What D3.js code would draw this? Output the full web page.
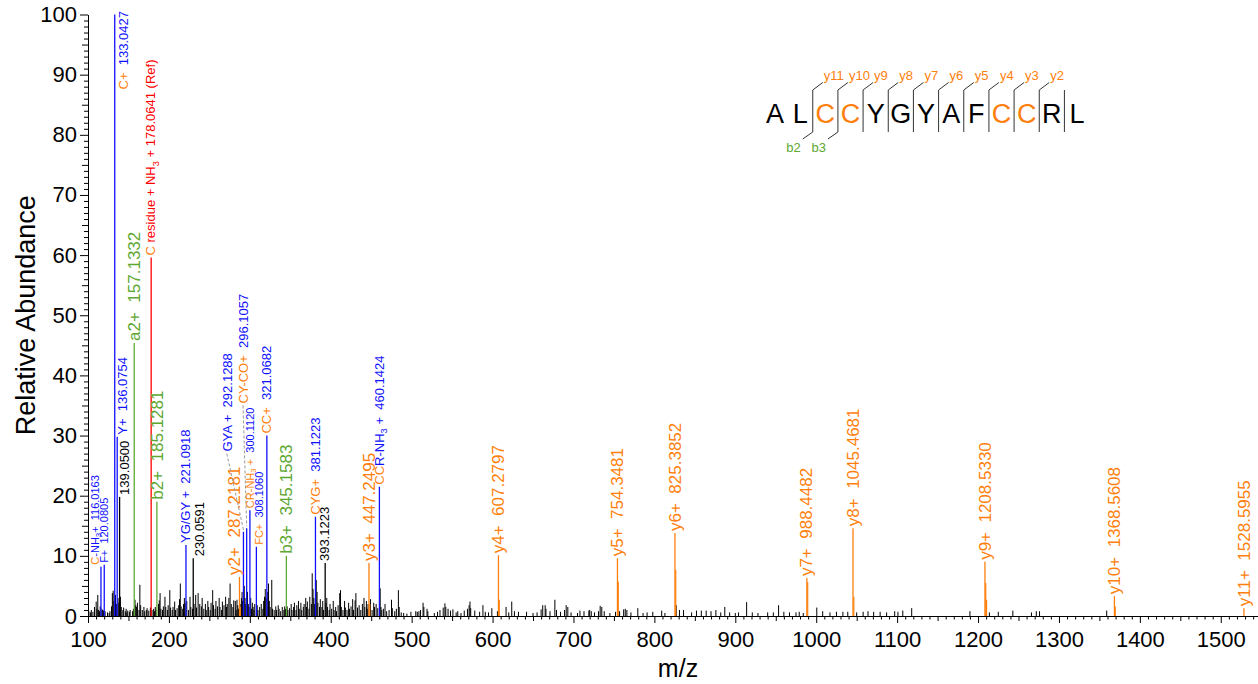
<!DOCTYPE html>
<html>
<head>
<meta charset="utf-8">
<script src="https://cdn.jsdelivr.net/npm/d3@7"></script>
<style>
  body { margin: 0; background: #fff; }
  svg text { font-family: "Liberation Sans", Arial, Helvetica, sans-serif; }
</style>
</head>
<body>
<svg id="chart" width="1258" height="684"></svg>
<script>
// ---------- annotated fragment ions ----------
const ionMz = [116.0163, 120.0805, 133.0427, 136.0754, 139.0500, 157.1332, 178.0641, 185.1281,
  221.0918, 230.0591, 287.2181, 292.1288, 296.1057, 300.1120, 308.1060, 321.0682, 345.1583,
  381.1223, 393.1223, 447.2495, 460.1424, 607.2797, 754.3481, 825.3852, 988.4482, 1045.4681,
  1208.5330, 1368.5608, 1528.5955];
const ionIntensity = [8.2, 8.5, 100, 29.8, 19.8, 45.4, 59.6, 19.0,
  11.8, 9.6, 6.5, 14.0, 14.6, 17.6, 11.5, 30.0, 10.0,
  16.5, 8.8, 8.8, 21.5, 10.1, 9.6, 13.8, 6.3, 14.6,
  9.0, 3.3, 1.3];
// frag = immonium / internal (blue), y = y ions, b = b/a ions, ref = lock mass, plain = unassigned
const ionKind = ["frag", "frag", "frag", "frag", "plain", "b", "ref", "b",
  "frag", "plain", "y", "frag", "frag", "frag", "frag", "frag", "b",
  "frag", "plain", "y", "frag", "y", "y", "y", "y", "y",
  "y", "y", "y"];
// {...} = cysteine-containing part, _x = subscript
const ionLabel = ["{C}-NH_3+  116.0163", "F+  120.0805", "{C+}  133.0427", "Y+  136.0754", "139.0500",
  "a2+  157.1332", "{C} residue + NH_3 + 178.0641 (Ref)", "b2+  185.1281",
  "YG/GY +  221.0918", "230.0591", "y2+  287.2181", "GYA +  292.1288", "{CY-CO+}  296.1057",
  "{CR-NH_3 +}  300.1120", "{FC+}  308.1060", "{CC+}  321.0682", "b3+  345.1583",
  "{CYG+}  381.1223", "393.1223", "y3+  447.2495", "{CC}R-NH_3 +  460.1424", "y4+  607.2797",
  "y5+  754.3481", "y6+  825.3852", "y7+  988.4482", "y8+  1045.4681",
  "y9+  1208.5330", "y10+  1368.5608", "y11+  1528.5955"];

// isotope lines of the y ions (unlabelled)
const isotopeMz = [288.22, 448.25, 608.28, 755.35, 826.39, 989.45, 1046.47, 1209.53, 1210.53, 1369.56];
const isotopeIntensity = [1.5, 2.0, 2.7, 5.7, 7.7, 5.6, 3.2, 5.5, 2.7, 1.6];

// ---------- unassigned peaks [m/z, relative abundance] ----------
const noise100 = [[101.1,0.8],[103.0,0.6],[104.1,1.0],[106.1,0.7],[108.0,1.5],[110.1,2.4],[111.1,1.2],
  [112.1,3.5],[113.1,1.0],[114.1,0.8],[115.1,1.6],[117.1,1.2],[118.1,1.0],[119.1,0.9],[121.1,0.8],
  [124.1,0.6],[126.1,0.5],[127.1,0.8],[129.1,1.6],[130.1,3.8],[131.1,4.2],[132.1,2.5],[134.0,3.5],
  [135.1,2.0],[137.1,3.0],[138.1,2.2],[140.1,3.2],[141.1,1.5],[143.1,1.0],[144.1,1.4],[146.1,0.8],
  [147.1,1.2],[148.1,0.6],[149.1,0.9]];
const noise150 = [[151.1,0.7],[152.1,1.0],[155.1,0.8],[156.1,1.2],[158.1,2.7],[159.1,1.8],[160.1,1.5],
  [161.1,2.2],[163.1,1.0],[164.1,5.2],[165.1,1.8],[167.1,1.0],[169.1,1.5],[170.1,0.8],[172.1,1.0],
  [173.1,1.3],[175.1,0.9],[177.1,1.4],[179.1,1.0],[181.1,1.2],[182.1,0.8],[183.1,1.5],[184.1,1.1],
  [187.1,2.0],[188.1,2.6],[189.1,3.8],[190.1,1.2],[192.1,1.0],[193.1,1.6],[195.1,3.2],[196.1,1.5],
  [198.1,1.0],[199.1,1.8]];
const noise200 = [[201.1,4.3],[202.1,1.4],[204.1,1.0],[205.1,1.5],[207.1,2.4],[208.1,1.0],[210.1,1.3],
  [212.1,1.8],[213.1,2.8],[214.1,5.4],[215.1,1.6],[217.1,1.2],[218.1,2.0],[219.1,3.0],[220.1,2.2],
  [222.1,2.5],[224.1,1.0],[226.1,3.2],[227.1,1.5],[229.1,1.2],[231.1,2.0],[233.1,3.5],[234.1,1.4],
  [236.1,3.8],[238.1,2.0],[240.1,1.6],[241.1,3.0],[243.1,1.2],[245.1,2.0],[246.1,1.0],[248.1,2.5],
  [249.1,1.5]];
const noise250 = [[251.1,1.0],[252.1,2.2],[254.1,4.3],[255.1,1.8],[257.1,1.2],[258.1,2.5],[260.1,1.6],
  [262.1,3.0],[263.1,1.5],[265.1,1.0],[266.1,2.4],[268.1,1.8],[270.1,3.2],[271.1,1.5],[272.1,2.0],
  [274.1,3.0],[275.6,5.4],[277.1,2.0],[279.1,1.5],[280.1,2.6],[282.1,2.5],[283.1,1.0],[284.1,2.7],
  [285.1,1.8],[286.1,1.2],[288.9,2.0],[289.6,3.0],[290.4,4.0],[291.1,2.5],[293.1,5.0],[294.1,3.0],
  [295.1,2.0],[297.1,4.0],[298.1,2.0],[299.1,1.5]];
const noise300 = [[301.1,3.0],[302.1,1.2],[303.1,2.2],[304.1,1.5],[305.1,1.0],[306.1,2.0],[309.1,1.8],
  [310.1,1.0],[312.1,1.5],[314.1,2.0],[316.1,1.2],[317.1,2.5],[318.1,3.2],[319.1,4.5],[320.1,3.0],
  [322.1,4.0],[323.1,5.4],[324.1,2.5],[325.1,1.5],[327.1,6.0],[328.1,1.2],[330.1,1.0],[332.1,1.6],
  [333.1,1.0],[335.1,1.8],[336.1,1.2],[338.1,0.8],[340.1,1.5],[342.1,1.0],[343.1,1.6],[344.1,1.2],
  [346.1,1.6],[347.1,1.0],[349.1,1.3]];
const noise350 = [[351.1,2.0],[352.1,1.0],[354.1,1.5],[355.1,2.2],[357.1,1.0],[358.1,1.8],[360.1,2.5],
  [361.1,1.2],[363.1,2.2],[364.1,1.0],[366.1,1.5],[367.1,2.0],[369.1,3.0],[370.1,1.5],[371.1,2.4],
  [373.1,1.2],[374.1,3.2],[376.1,2.0],[377.1,7.1],[378.1,4.5],[379.1,3.0],[380.1,2.0],[382.1,6.0],
  [383.1,4.0],[384.1,2.2],[386.1,1.5],[387.1,2.8],[389.1,1.5],[390.1,2.5],[391.1,1.0],[394.1,2.2],
  [395.1,3.0],[396.1,1.5],[398.1,1.0],[399.1,2.0]];
const noise400 = [[401.1,1.2],[403.1,2.5],[404.1,1.0],[406.1,1.5],[407.1,0.8],[409.1,1.8],[411.1,3.8],
  [412.1,4.3],[413.1,1.5],[415.1,1.0],[417.1,2.5],[418.1,1.4],[420.1,1.0],[422.1,2.2],[423.1,1.2],
  [425.1,1.6],[427.1,2.8],[428.1,1.0],[430.1,2.6],[431.1,3.8],[433.1,1.4],[435.1,1.8],[437.1,1.0],
  [439.1,2.0],[441.1,3.0],[442.1,1.5],[444.1,2.5],[445.1,1.2],[446.1,2.0],[449.1,2.8],[451.1,1.0],
  [453.1,2.2],[454.1,1.5],[456.1,2.0],[458.1,1.3],[461.1,4.6],[462.1,1.5],[463.1,1.0],[465.1,1.2],
  [467.1,2.0],[469.1,0.8],[472.1,1.0],[475.1,2.7],[476.1,1.3],[479.1,0.8],[481.1,1.2],[483.6,4.3],
  [484.6,1.5],[487.1,0.6],[490.1,0.5],[494.1,0.4],[499.1,0.7]];
const noise500 = [[505.1,0.8],[507.0,0.7],[509.0,0.8],[511.0,1.0],[514.1,2.2],[515.1,1.5],[519.0,1.2],
  [520.0,0.8],[528.0,0.5],[532.0,0.7],[535.0,1.0],[539.0,1.4],[541.1,2.1],[542.2,1.5],[545.0,1.2],
  [548.0,0.9],[551.0,1.1],[555.0,0.6],[557.0,0.8],[561.0,0.5],[565.0,0.9],[569.0,1.2],[571.0,1.8],
  [572.1,2.4],[573.0,1.3],[578.0,0.9],[584.0,0.7],[588.1,1.8],[591.0,0.7],[595.0,0.6],[599.1,1.3],
  [606.0,0.8],[616.7,1.5],[620.0,0.6],[623.7,2.4],[627.0,0.8],[632.0,0.7],[642.0,0.7],[650.0,0.5],
  [655.0,0.6],[660.0,1.1],[662.0,1.8],[665.0,1.8],[666.0,1.2],[671.0,0.8],[677.0,2.7],[679.0,1.0],
  [684.0,0.7],[689.0,1.0],[691.0,1.8],[693.0,1.5],[697.0,0.6]];
const noise700 = [[705,0.5],[708,0.9],[713,0.8],[719,0.9],[720,1.0],[722,0.8],[726,0.6],[731,0.8],
  [733,1.7],[735,1.5],[738,0.8],[745,0.5],[752,0.7],[757,0.8],[762,1.1],[764,1.2],[766,1.0],[771,0.6],
  [779.5,1.3],[786,0.5],[791,0.6],[798,0.7],[809,0.9],[813,0.5],[827,1.8],[831,1.0],[836,1.0],
  [846,0.6],[852,0.9],[858,0.9],[864,0.9],[870,0.8],[876,1.0],[882,0.6],[887,1.5],[893,0.6],[900,0.5],
  [904,0.6],[914,2.3],[921,0.6],[928,0.5],[940,0.6],[947,0.6],[953.5,1.8],[960,0.7],[967,0.6],
  [975,0.6],[979,0.7],[984,0.5]];
const noise1000 = [[1000.7,1.4],[1008,0.8],[1017,0.6],[1025,0.7],[1033,0.7],[1039,0.7],[1050,0.6],
  [1058,0.7],[1064,0.8],[1071,0.7],[1079,0.7],[1087,0.6],[1097,0.8],[1101,0.7],[1107,0.9],[1118,1.3],
  [1190,0.8],[1214,0.6],[1225,0.7],[1243,0.9],[1266,0.6],[1272,0.8],[1276,0.8],[1359,0.9]];

// ---------- peptide sequence and observed cleavages ----------
const sequence = ["A","L","C","C","Y","G","Y","A","F","C","C","R","L"];
const yIonNumbers = [11, 10, 9, 8, 7, 6, 5, 4, 3, 2];   // cleavage after residue 2 .. 11
const bIonNumbers = [2, 3];

// ---------- axis ticks ----------
const xTickValues = [100,200,300,400,500,600,700,800,900,1000,1100,1200,1300,1400,1500];
const yTickValues = [0,10,20,30,40,50,60,70,80,90,100];

// ---------- drawing ----------
const COLORS = { frag: "#1010ff", y: "#ff7f0e", b: "#5ea832", ref: "#ff0000", plain: "#000000", residue: "#ff7f0e" };
const svg = d3.select("#chart");
const x = d3.scaleLinear().domain([100, 1546]).range([88, 1258]);
const y = d3.scaleLinear().domain([0, 100]).range([616, 14.5]);

// axes
function styleAxis(g) {
  g.attr("font-family", null).attr("font-size", null);
  g.selectAll("line, path").attr("stroke", "#000");
  g.selectAll("text").attr("font-size", 22).attr("fill", "#000");
}
const xMinor = d3.range(110, 1546, 10).filter(v => v % 50 !== 0);
const xMid = d3.range(150, 1546, 100);
svg.append("g").attr("transform", "translate(0,616)")
  .call(d3.axisBottom(x).tickValues(xMinor).tickSize(3.5).tickFormat("").tickSizeOuter(0))
  .call(g => g.select(".domain").remove()).call(styleAxis);
svg.append("g").attr("transform", "translate(0,616)")
  .call(d3.axisBottom(x).tickValues(xMid).tickSize(5).tickFormat("").tickSizeOuter(0))
  .call(g => g.select(".domain").remove()).call(styleAxis);
svg.append("g").attr("transform", "translate(0,616)")
  .call(d3.axisBottom(x).tickValues(xTickValues).tickSize(7).tickPadding(8).tickSizeOuter(0).tickFormat(d3.format("d")))
  .call(styleAxis);

const yMinor = d3.range(1, 100, 1).filter(v => v % 5 !== 0);
const yMid = d3.range(5, 100, 10);
svg.append("g").attr("transform", "translate(88,0)")
  .call(d3.axisLeft(y).tickValues(yMinor).tickSize(4).tickFormat("").tickSizeOuter(0))
  .call(g => g.select(".domain").remove()).call(styleAxis);
svg.append("g").attr("transform", "translate(88,0)")
  .call(d3.axisLeft(y).tickValues(yMid).tickSize(6).tickFormat("").tickSizeOuter(0))
  .call(g => g.select(".domain").remove()).call(styleAxis);
svg.append("g").attr("transform", "translate(88,0)")
  .call(d3.axisLeft(y).tickValues(yTickValues).tickSize(8).tickPadding(3).tickSizeOuter(0).tickFormat(d3.format("d")))
  .call(styleAxis);

// axis titles
svg.append("text").attr("transform", `translate(35,${(y(0) + y(100)) / 2}) rotate(-90)`)
  .attr("text-anchor", "middle").attr("font-size", 27).text("Relative Abundance");
svg.append("text").attr("x", (x.range()[0] + x.range()[1]) / 2 + 5).attr("y", 677)
  .attr("text-anchor", "middle").attr("font-size", 25).text("m/z");

// unassigned peaks
const noisePeaks = [].concat(noise100, noise150, noise200, noise250, noise300, noise350, noise400,
  noise500, noise700, noise1000);
svg.append("g").selectAll("line").data(noisePeaks).join("line")
  .attr("x1", d => x(d[0])).attr("x2", d => x(d[0]))
  .attr("y1", y(0)).attr("y2", d => y(d[1]))
  .attr("stroke", "#000").attr("stroke-width", 1);

// isotope lines
svg.append("g").selectAll("line").data(isotopeMz).join("line")
  .attr("x1", d => x(d)).attr("x2", d => x(d))
  .attr("y1", y(0)).attr("y2", (d, i) => y(isotopeIntensity[i]))
  .attr("stroke", COLORS.y).attr("stroke-width", 1.2);

// annotated peaks
const ions = ionMz.map((mz, i) => ({ mz, v: ionIntensity[i], kind: ionKind[i], label: ionLabel[i] }));
svg.append("g").selectAll("line").data(ions).join("line")
  .attr("x1", d => x(d.mz)).attr("x2", d => x(d.mz))
  .attr("y1", y(0)).attr("y2", d => y(d.v))
  .attr("stroke", d => COLORS[d.kind]).attr("stroke-width", 1.3);

// label layout tweaks where neighbouring labels would collide
const labelSmall = new Set([116.0163, 120.0805, 300.1120, 308.1060]);
const labelNudge = {
  116.0163: { dx: -6 },
  133.0427: { dx: 9, at: 87.2 },
  136.0754: { dx: 6 },
  139.05: { dx: 5 },
  230.0591: { dx: 6 },
  287.2181: { dx: -5 },
  292.1288: { dx: -16, at: 27, leader: true },
  296.1057: { dx: -3, at: 35, leader: true },
  308.106: { dx: 3 }
};

function parseMarkup(str) {
  const segs = [];
  let buf = "", res = false;
  const flush = (sub) => { if (buf) segs.push({ t: buf, res, sub: !!sub }); buf = ""; };
  for (let i = 0; i < str.length; i++) {
    const c = str[i];
    if (c === "{") { flush(); res = true; }
    else if (c === "}") { flush(); res = false; }
    else if (c === "_") { flush(); buf = str[++i]; flush(true); }
    else buf += c;
  }
  flush();
  return segs;
}

const labelG = svg.append("g");
ions.forEach(d => {
  const fs = (d.kind === "y" || d.kind === "b") ? 17 : (labelSmall.has(d.mz) ? 11 : 13);
  const n = labelNudge[d.mz] || {};
  const lx = x(d.mz) + (n.dx || 0);
  const ly = y(n.at !== undefined ? n.at : d.v) - 2;
  const t = labelG.append("text")
    .attr("transform", `translate(${lx},${ly}) rotate(-90)`)
    .attr("dy", "0.33em").attr("font-size", fs)
    .style("white-space", "pre");
  let shifted = false;
  parseMarkup(d.label).forEach(s => {
    const ts = t.append("tspan").text(s.t)
      .attr("fill", s.res ? COLORS.residue : COLORS[d.kind]);
    if (s.sub) { ts.attr("font-size", fs * 0.72).attr("dy", fs * 0.25); shifted = true; }
    else if (shifted) { ts.attr("dy", -fs * 0.25); shifted = false; }
  });
  if (n.leader) {
    labelG.append("line")
      .attr("x1", lx - fs * 0.05).attr("y1", ly + 2)
      .attr("x2", x(d.mz)).attr("y2", y(d.v) - 2)
      .attr("stroke", "#999").attr("stroke-width", 1).attr("stroke-dasharray", "3,2");
  }
});

// sequence with fragmentation marks
const seqX = d3.scaleLinear().domain([0, sequence.length - 1]).range([775, 1077]);
const seqG = svg.append("g");
seqG.selectAll("text.res").data(sequence).join("text")
  .attr("class", "res")
  .attr("x", (d, i) => seqX(i)).attr("y", 123)
  .attr("text-anchor", "middle").attr("font-size", 27)
  .attr("fill", d => d === "C" ? COLORS.residue : "#000")
  .text(d => d);
const cuts = d3.range(2, sequence.length);   // cleavage after residue k (1-based)
cuts.forEach((k, j) => {
  const sx = seqX(k - 0.5);
  seqG.append("line").attr("x1", sx).attr("x2", sx).attr("y1", 90).attr("y2", 132)
    .attr("stroke", "#333").attr("stroke-width", 1);
  const yNum = yIonNumbers[j];
  if (yNum !== undefined) {
    seqG.append("line").attr("x1", sx).attr("y1", 90).attr("x2", sx + 10).attr("y2", 82.5)
      .attr("stroke", "#333").attr("stroke-width", 1);
    seqG.append("text").attr("x", sx + 11).attr("y", 80).attr("font-size", 13)
      .attr("fill", COLORS.y).text("y" + yNum);
  }
  if (bIonNumbers.includes(k)) {
    seqG.append("line").attr("x1", sx).attr("y1", 132).attr("x2", sx - 10).attr("y2", 139)
      .attr("stroke", "#333").attr("stroke-width", 1);
    seqG.append("text").attr("x", sx - 12).attr("y", 152).attr("font-size", 13)
      .attr("text-anchor", "end").attr("fill", COLORS.b).text("b" + k);
  }
});
</script>
</body>
</html>
